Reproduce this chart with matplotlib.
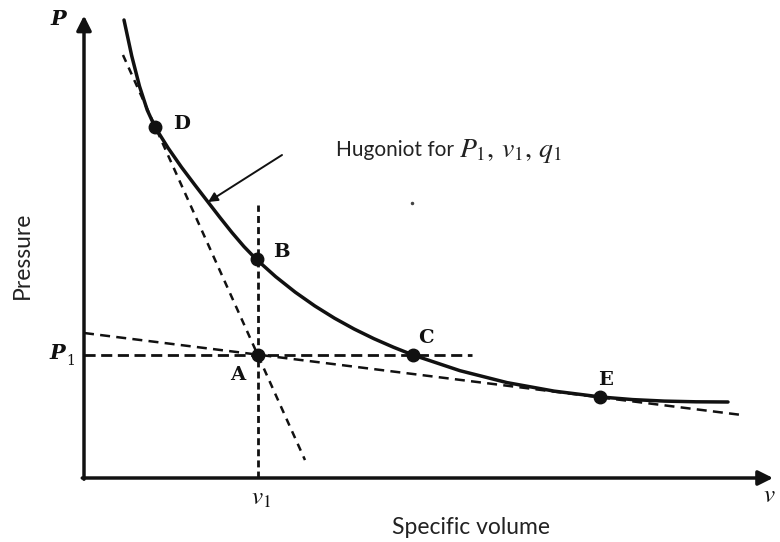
#Hugoniot curve with Rayleigh lines through the initial state A

import numpy as np
import matplotlib.pyplot as plt

plt.rcParams['mathtext.fontset'] = 'stix'

# Hugoniot curve points (v in units of v1, P in units of P1)
curve_v = [0.2299, 0.2744, 0.3190, 0.3635, 0.4080, 0.4842, 0.5603, 0.6365, 0.7126,
           0.7816, 0.8506, 0.9195, 0.9885, 1.1011, 1.2141, 1.3270, 1.4397, 1.5523,
           1.6652, 1.7782, 1.8908, 2.1609, 2.4310, 2.7011, 2.9713, 3.1537, 3.3362,
           3.5187, 3.7011]
curve_p = [3.7236, 3.4309, 3.1846, 2.9911, 2.8537, 2.6813, 2.5268, 2.3837, 2.2439,
           2.1175, 1.9951, 1.8813, 1.7805, 1.6374, 1.5106, 1.3984, 1.2992, 1.2114,
           1.1333, 1.0634, 1.0000, 0.8724, 0.7756, 0.7065, 0.6585, 0.6374, 0.6252,
           0.6195, 0.6179]

# labelled states
point_names = ['A', 'B', 'C', 'D', 'E']
point_v = [1.0, 0.994, 1.891, 0.408, 2.966]
point_p = [1.0, 1.780, 1.0, 2.854, 0.659]

# dashed construction lines (end points)
steep_v = [0.224, 1.270]
steep_p = [3.439, 0.146]
shallow_v = [0.0, 3.782]
shallow_p = [1.179, 0.512]
vert_v = [1.0, 1.0]
vert_p = [0.0, 2.22]
horiz_v = [0.0, 2.23]
horiz_p = [1.0, 1.0]

fig = plt.figure(figsize=(7.8, 5.42), dpi=100)
ax = fig.add_axes([0, 0, 1, 1])
ax.set_xlim(-84 / 174, 696 / 174)
ax.set_ylim(-64 / 123, 478 / 123)
ax.axis('off')

ink = '#111111'
grey = '#222222'

# axes with arrow heads
ax.annotate('', xy=(0, 3.76), xytext=(0, -0.01),
            arrowprops=dict(arrowstyle='-|>', lw=2.5, color=ink, mutation_scale=22,
                            shrinkA=0, shrinkB=0))
ax.annotate('', xy=(3.96, 0), xytext=(-0.01, 0),
            arrowprops=dict(arrowstyle='-|>', lw=2.5, color=ink, mutation_scale=22,
                            shrinkA=0, shrinkB=0))

# dashed lines
ax.plot(vert_v, vert_p, color=ink, lw=2, dashes=(2.5, 1.5))
ax.plot(horiz_v, horiz_p, color=ink, lw=2, dashes=(4, 2))
ax.plot(steep_v, steep_p, color=ink, lw=1.8, dashes=(3, 2.5))
ax.plot(shallow_v, shallow_p, color=ink, lw=1.8, dashes=(4, 2.5))

# Hugoniot
ax.plot(curve_v, curve_p, color=ink, lw=2.5, solid_capstyle='round',
        solid_joinstyle='round')

# states
ax.plot(point_v, point_p, 'o', color=ink, ms=9)
offsets = {'A': (-0.115, -0.16), 'B': (0.14, 0.06), 'C': (0.075, 0.14),
           'D': (0.155, 0.02), 'E': (0.03, 0.14)}
for name, v, p in zip(point_names, point_v, point_p):
    dx, dy = offsets[name]
    ax.text(v + dx, p + dy, name, family='DejaVu Serif', fontweight='bold',
            fontsize=14, ha='center', va='center', color=ink)

# axis symbols
serif = dict(family='DejaVu Serif', style='italic', fontweight='bold', color=ink,
             ha='center', va='center')
ax.text(-0.149, 3.73, 'P', fontsize=15, **serif)
ax.text(-0.155, 1.02, 'P', fontsize=15, **serif)
ax.text(-0.078, 0.95, '1', fontsize=10, family='DejaVu Serif', color=ink,
        ha='center', va='center')
ax.text(1.02, -0.16, r'$v_1$', fontsize=18, color=ink, ha='center', va='center')
ax.text(3.905, -0.14, r'$v$', fontsize=18, color=ink, ha='left', va='center')

# annotation arrow
ax.annotate('', xy=(0.713, 2.244), xytext=(1.138, 2.626),
            arrowprops=dict(arrowstyle='-|>', lw=1.4, color=ink, mutation_scale=14,
                            shrinkA=0, shrinkB=0))
ax.plot([1.885], [2.236], '.', color='#444444', ms=3)

ax.text(1.448, 2.667, 'Hugoniot for', family='Lato', fontsize=15,
        color=grey, ha='left', va='center')
ax.text(2.155, 2.655, r'$P_1,\, v_1,\, q_1$', fontsize=20,
        color=grey, ha='left', va='center')

fig.text(22 / 780, 1 - 255 / 542, 'Pressure', family='Lato', fontsize=16.5,
         rotation=90, ha='center', va='center', color=grey)
fig.text(471 / 780, 1 - 527 / 542, 'Specific volume', family='Lato', fontsize=16.5,
         ha='center', va='center', color=grey)

fig.savefig('out.png', dpi=100)
